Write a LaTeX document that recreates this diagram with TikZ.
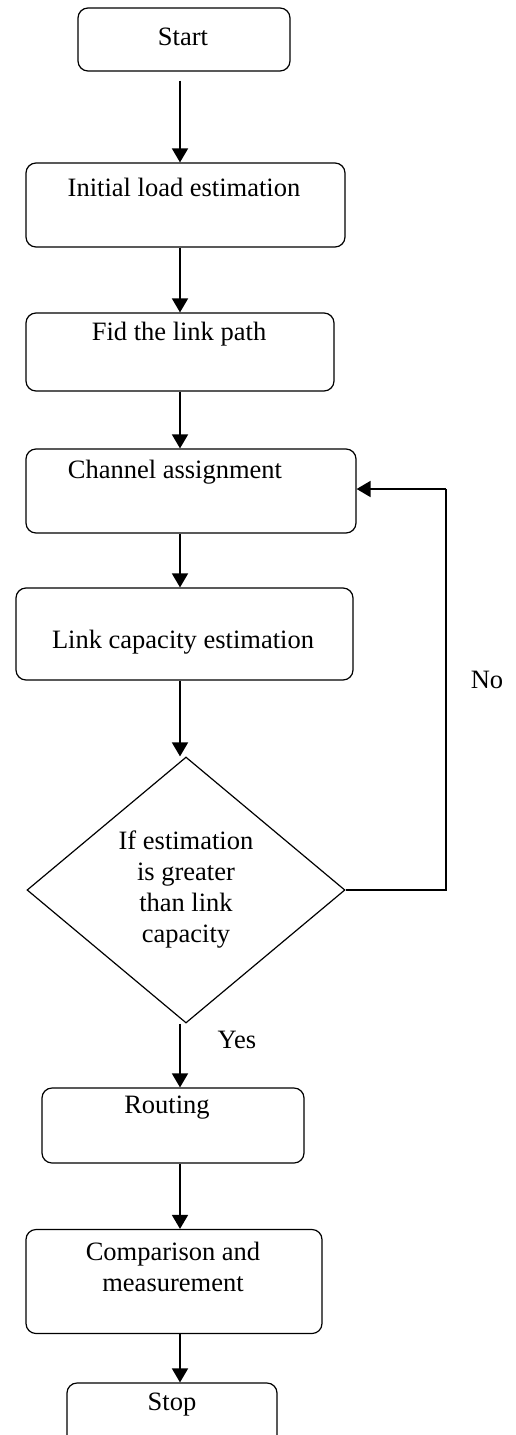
\documentclass[tikz,border=0pt]{standalone}
\usepackage{fontspec}
\setmainfont{Liberation Serif}
\usepackage{tikz}
\usetikzlibrary{shapes.geometric,arrows.meta}
\tikzset{
    procbox/.style={
        draw,
        rectangle,
        rounded corners=10pt,
        line width=1.2pt,
        inner sep=0,
    },
    decision/.style={
        draw,
        diamond,
        line width=1.2pt,
        inner sep=0,
        align=center,
    },
    flow/.style={
        line width=1.7pt,
        -{Triangle[length=14pt,width=16pt]},
    },
    loopline/.style={
        line width=1.2pt,
    },
}

\begin{document}
\begin{tikzpicture}[x=1pt, y=-1pt, font=\fontsize{26.5}{31}\selectfont]
            \clip (0,0) rectangle (515,1435);
            \fill[white] (0,0) rectangle (515,1435);
            \coordinate (spine) at (180,0);

            \node[procbox, minimum width=212pt, minimum height=63pt] at (184, 39.5)  (start) {};
            \node at (183, 37)  (startT) {Start};

            \node[procbox, minimum width=319pt, minimum height=84pt] at (185.5, 205)  (init) {};
            \node at (184, 187)  (initT) {Initial load estimation};

            \node[procbox, minimum width=308pt, minimum height=78pt] at (180, 352)  (path) {};
            \node at (179, 334)  (pathT) {Fid the link path};

            \node[procbox, minimum width=330pt, minimum height=84pt] at (191, 491)  (chan) {};
            \node at (175, 472)  (chanT) {Channel assignment};

            \node[procbox, minimum width=337pt, minimum height=92pt] at (184.5, 634)  (cap) {};
            \node at (183, 642)  (capT) {Link capacity estimation};

            \node[decision, minimum width=318pt, minimum height=266pt] at (186, 890)  (check)
                {If estimation\\is greater\\than link\\capacity};

            \node[procbox, minimum width=262pt, minimum height=75pt] at (173, 1125.5)  (route) {};
            \node at (167, 1108)  (routeT) {Routing};

            \node[procbox, minimum width=296pt, minimum height=104pt] at (174, 1281.5)  (comp) {};
            \node[align=center] at (173, 1267)  (compT) {Comparison and\\measurement};

            \node[procbox, minimum width=210pt, minimum height=63pt] at (172, 1414.5)  (stop) {};
            \node at (172, 1405)  (stopT) {Stop};

            \node at (487, 680)  (no)  {No};
            \node at (237, 1040) (yes) {Yes};

            \coordinate (loopcorner) at (446, 489);

            \draw[flow, shorten <=9pt] (start.south -| spine) -- (init.north -| spine);
            \draw[flow] (init.south -| spine) -- (path.north -| spine);
            \draw[flow] (path.south -| spine) -- (chan.north -| spine);
            \draw[flow] (chan.south -| spine) -- (cap.north -| spine);
            \draw[flow] (cap.south -| spine) -- (check.north -| spine);
            \draw[flow] (check.south -| spine) -- (route.north -| spine);
            \draw[flow] (route.south -| spine) -- (comp.north -| spine);
            \draw[flow] (comp.south -| spine) -- (stop.north -| spine);

            % no branch back to channel assignment
            \draw[loopline] (check.east) -| (loopcorner);
            \draw[flow] (loopcorner) -- (loopcorner -| chan.east);
        \end{tikzpicture}
\end{document}
